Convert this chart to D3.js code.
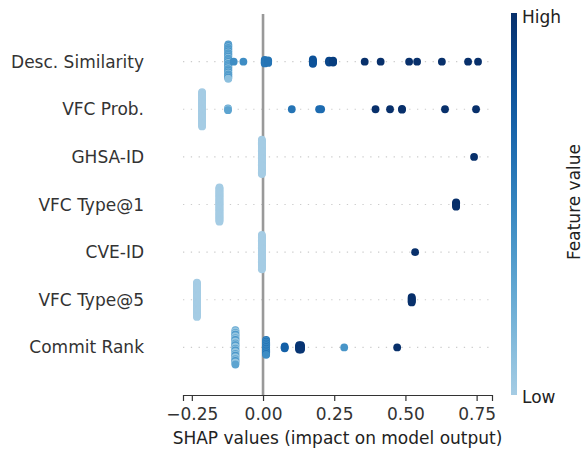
<!DOCTYPE html>
<html>
<head>
<meta charset="utf-8">
<script src="https://cdn.jsdelivr.net/npm/d3@7"></script>
<style>
  html, body { margin: 0; padding: 0; background: #fff; }
  svg { display: block; font-family: "DejaVu Sans", sans-serif; }
</style>
</head>
<body>
<svg id="chart" width="584" height="449"></svg>
<script>
// ---- Data ----
// Features, top to bottom
const features = ["Desc. Similarity", "VFC Prob.", "GHSA-ID", "VFC Type@1", "CVE-ID", "VFC Type@5", "Commit Rank"];

// Each group: [SHAP value, number of samples, feature values (0 = low, 1 = high), cycled over the samples]
const descSimilarity = [
  [-0.122, 40, [0.38, 0.25, 0.45, 0.1, 0.38, 0.3]],
  [-0.103, 1, [0.45]],
  [-0.069, 1, [0.45]],
  [0.006, 5, [0.58]],
  [0.018, 4, [0.6]],
  [0.175, 6, [0.8]],
  [0.232, 3, [0.88]],
  [0.246, 3, [0.92]],
  [0.357, 1, [1]],
  [0.413, 1, [1]],
  [0.513, 1, [1]],
  [0.541, 1, [1]],
  [0.628, 1, [1]],
  [0.720, 1, [1]],
  [0.755, 1, [1]]
];
const vfcProb = [
  [-0.214, 40, [0]],
  [-0.123, 3, [0.3, 0.1, 0.3]],
  [0.101, 1, [0.6]],
  [0.197, 1, [0.65]],
  [0.204, 1, [0.65]],
  [0.395, 1, [1]],
  [0.446, 1, [1]],
  [0.488, 2, [1]],
  [0.639, 1, [1]],
  [0.748, 1, [1]]
];
const ghsaId = [
  [-0.004, 40, [0]],
  [0.741, 1, [1]]
];
const vfcType1 = [
  [-0.153, 40, [0]],
  [0.678, 6, [1]]
];
const cveId = [
  [-0.004, 40, [0]],
  [0.534, 1, [1]]
];
const vfcType5 = [
  [-0.232, 40, [0]],
  [0.522, 7, [1]]
];
const commitRank = [
  [-0.097, 40, [0.3, 0.05, 0.05, 0.3, 0.05, 0.4]],
  [0.011, 18, [0.6, 0.45]],
  [0.076, 3, [0.72]],
  [0.127, 6, [0.97]],
  [0.133, 6, [0.97]],
  [0.285, 1, [0.4]],
  [0.471, 1, [1]]
];
const rows = [descSimilarity, vfcProb, ghsaId, vfcType1, cveId, vfcType5, commitRank];

const xTicks = [-0.25, 0, 0.25, 0.5, 0.75];
const xLabel = "SHAP values (impact on model output)";
const cbarTitle = "Feature value";
const cbarHigh = "High";
const cbarLow = "Low";

// ---- Drawing ----
const svg = d3.select("#chart");
const W = 584, H = 449;
const plotLeft = 183, plotRight = 492, plotTop = 14, plotBottom = 395;

const x = d3.scaleLinear().domain([-0.281, 0.804]).range([plotLeft, plotRight]);
// y in SHAP units: row index from bottom 0..n-1, limits [-1, n]
const n = features.length;
const y = d3.scaleLinear().domain([-1, n]).range([plotBottom, plotTop]);
const rowY = i => y(n - 1 - i);
const unit = Math.abs(y(0) - y(1));

const color = t => d3.interpolateBlues(0.35 + 0.65 * t);

// grid lines
svg.append("g").selectAll("line").data(features).join("line")
  .attr("x1", plotLeft).attr("x2", plotRight)
  .attr("y1", (d, i) => rowY(i)).attr("y2", (d, i) => rowY(i))
  .attr("stroke", "#cccccc").attr("stroke-width", 1.2)
  .attr("stroke-dasharray", "1.3,6.5");

// zero line
svg.append("line")
  .attr("x1", x(0)).attr("x2", x(0))
  .attr("y1", plotTop).attr("y2", plotBottom)
  .attr("stroke", "#999999").attr("stroke-width", 2.6);

// points
const pts = [];
rows.forEach((groups, i) => {
  const maxN = d3.max(groups, g => g[1]);
  const step = maxN > 1 ? (0.36 * unit * 2) / (maxN - 1) : 0;
  groups.forEach(([v, cnt, fvs]) => {
    for (let k = 0; k < cnt; k++) {
      const off = (k - (cnt - 1) / 2) * step;
      pts.push({ x: v, y: rowY(i) + off, fv: fvs[k % fvs.length] });
    }
  });
});
svg.append("g").selectAll("circle").data(pts).join("circle")
  .attr("cx", d => x(d.x)).attr("cy", d => d.y)
  .attr("r", 3.9)
  .attr("fill", d => color(d.fv));

// x axis
const xAxis = d3.axisBottom(x).tickValues(xTicks)
  .tickFormat(d3.format(".2f")).tickSizeOuter(0).tickSize(6).tickPadding(7);
const gx = svg.append("g").attr("transform", `translate(0,${plotBottom})`).call(xAxis);
gx.select(".domain").attr("stroke", "#333333").attr("stroke-width", 1.2);
gx.selectAll(".tick line").attr("stroke", "#333333").attr("stroke-width", 1.2);
gx.selectAll(".tick text").attr("fill", "#333333").attr("font-size", 17)
  .attr("font-family", "DejaVu Sans");

svg.append("text")
  .attr("x", (plotLeft + plotRight) / 2).attr("y", 444)
  .attr("text-anchor", "middle").attr("font-size", 17).attr("fill", "#222")
  .text(xLabel);

// y labels
svg.append("g").selectAll("text").data(features).join("text")
  .attr("x", 144).attr("y", (d, i) => rowY(i))
  .attr("dy", "0.36em")
  .attr("text-anchor", "end").attr("font-size", 17).attr("fill", "#333333")
  .text(d => d);

// colorbar
const defs = svg.append("defs");
const grad = defs.append("linearGradient").attr("id", "cbar")
  .attr("x1", 0).attr("y1", 1).attr("x2", 0).attr("y2", 0);
d3.range(0, 1.0001, 0.1).forEach(t => {
  grad.append("stop").attr("offset", t).attr("stop-color", color(t));
});
const cbX = 511, cbW = 6;
svg.append("rect").attr("x", cbX).attr("y", 13).attr("width", cbW).attr("height", plotBottom - 13)
  .attr("fill", "url(#cbar)");
svg.append("text").attr("x", 522).attr("y", 23).attr("font-size", 17).attr("fill", "#222").text(cbarHigh);
svg.append("text").attr("x", 522).attr("y", 403).attr("font-size", 17).attr("fill", "#222").text(cbarLow);
svg.append("text")
  .attr("transform", `translate(580,202) rotate(-90)`)
  .attr("text-anchor", "middle").attr("font-size", 17).attr("fill", "#222")
  .text(cbarTitle);
</script>
</body>
</html>
